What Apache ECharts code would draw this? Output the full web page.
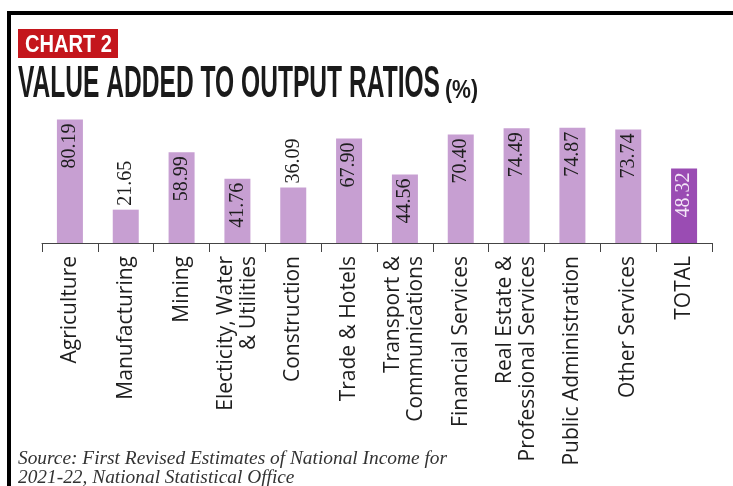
<!DOCTYPE html>
<html><head><meta charset="utf-8">
<script src="https://cdn.jsdelivr.net/npm/echarts@6/dist/echarts.min.js"></script>
<style>html,body{margin:0;padding:0;background:#fff}#c{width:733px;height:486px}</style>
</head><body><div id="c"></div>
<script>
const categories = ['Agriculture','Manufacturing','Mining','Electicity, Water\n& Utilities','Construction','Trade & Hotels','Transport &\nCommunications','Financial Services','Real Estate &\nProfessional Services','Public Administration','Other Services','TOTAL'];
const values = [80.19,21.65,58.99,41.76,36.09,67.90,44.56,70.40,74.49,74.87,73.74,48.32];
const labelOutside = [false,true,false,false,true,false,false,false,false,false,false,false];
const highlightCategory = 'TOTAL';
const kicker = 'CHART 2';
const titleText = 'VALUE ADDED TO OUTPUT RATIOS';
const unitText = '(%)';
const sourceLines = ['Source: First Revised Estimates of National Income for','2021-22, National Statistical Office'];

const ctx = document.createElement('canvas').getContext('2d');
function fitScale(text, font, target){ ctx.font = font; return target / ctx.measureText(text).width; }

const BAR = '#c79fd2', BAR_HI = '#9a4cb3';
const data = values.map((v,i)=>{
  const hi = categories[i] === highlightCategory;
  const out = labelOutside[i];
  return {
    value: v,
    itemStyle: {color: hi ? BAR_HI : BAR},
    label: out ? {position:'top', distance:4, align:'left', verticalAlign:'middle'}
               : {position:'insideTop', distance:4, align:'right', verticalAlign:'middle', color: hi ? '#f3e6f7' : '#1e1e1e'}
  };
});

const fTitle = 'bold 45px "Liberation Sans"';
const fKick = 'bold 24px "Liberation Sans"';
const fUnit = 'bold 26px "Liberation Sans"';
const fSrc = 'italic 18px "Liberation Serif"';

const chart = echarts.init(document.getElementById('c'), null, {renderer:'canvas'});
chart.setOption({
  animation:false,
  backgroundColor:'#fff',
  grid:{left:42, right:21, top:89, bottom:243, containLabel:false, outerBoundsMode:'none'},
  xAxis:{type:'category', data:categories,
    axisLine:{show:true, lineStyle:{color:'#444', width:1}},
    axisTick:{show:true, length:9, lineStyle:{color:'#444'}},
    axisLabel:{interval:0, rotate:90, margin:13, color:'#1e1e1e', fontFamily:'"Open Sans"', fontSize:21, lineHeight:23}
  },
  yAxis:{type:'value', min:0, max:100, show:false, splitLine:{show:false}},
  series:[{type:'bar', data:data, barWidth:26,
    label:{show:true, rotate:90, fontFamily:'"Liberation Serif"', fontSize:20, color:'#1e1e1e',
      formatter:p=>p.value.toFixed(2)}
  }],
  graphic:[
    {type:'rect', shape:{x:7,y:11,width:726,height:4}, style:{fill:'#000'}},
    {type:'rect', shape:{x:7,y:11,width:4,height:475}, style:{fill:'#000'}},
    {type:'rect', shape:{x:18,y:29,width:100,height:29}, style:{fill:'#c4161c'}},
    {type:'text', x:25, y:45, scaleX:fitScale(kicker,fKick,87), style:{text:kicker, font:fKick, fill:'#fff', verticalAlign:'middle'}},
    {type:'text', x:18, y:85, scaleX:fitScale(titleText,fTitle,422), style:{text:titleText, font:fTitle, fill:'#1a1a1a', verticalAlign:'middle'}},
    {type:'text', x:445, y:91, scaleX:fitScale(unitText,fUnit,33), style:{text:unitText, font:fUnit, fill:'#1a1a1a', verticalAlign:'middle'}},
    {type:'text', x:18, y:459, scaleX:fitScale(sourceLines[0],fSrc,429), style:{text:sourceLines[0], font:fSrc, fill:'#333', verticalAlign:'middle'}},
    {type:'text', x:18, y:478, scaleX:fitScale(sourceLines[0],fSrc,429), style:{text:sourceLines[1], font:fSrc, fill:'#333', verticalAlign:'middle'}}
  ]
});
</script></body></html>
